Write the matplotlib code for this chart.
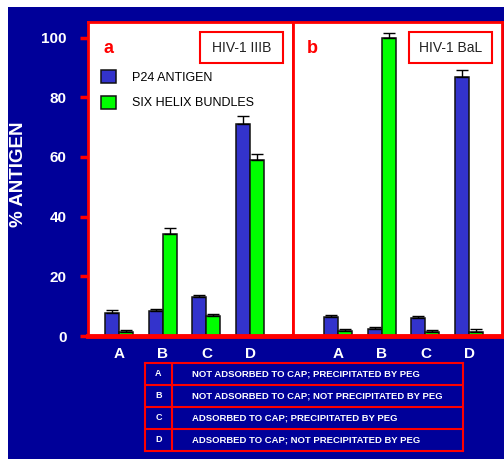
import matplotlib.pyplot as plt
from matplotlib.patches import Rectangle
import numpy as np

plt.rcParams['font.family'] = ['Liberation Sans', 'DejaVu Sans']

groups = ['A', 'B', 'C', 'D']

# panel a - HIV-1 IIIB
p24_a = [7.8, 8.4, 13.1, 70.9]
p24_a_err = [0.8, 0.6, 0.5, 2.7]
six_a = [1.5, 34.1, 6.7, 59.1]
six_a_err = [0.5, 2.0, 0.6, 1.8]

# panel b - HIV-1 BaL
p24_b = [6.4, 2.2, 5.9, 86.7]
p24_b_err = [0.5, 0.8, 0.7, 2.3]
six_b = [1.6, 99.9, 1.5, 1.5]
six_b_err = [0.6, 1.6, 0.5, 0.7]

table_keys = ['A', 'B', 'C', 'D']
table_text = ['NOT ADSORBED TO CAP; PRECIPITATED BY PEG',
              'NOT ADSORBED TO CAP; NOT PRECIPITATED BY PEG',
              'ADSORBED TO CAP; PRECIPITATED BY PEG',
              'ADSORBED TO CAP; NOT PRECIPITATED BY PEG']

BG = '#000099'
BLUE = '#3333CC'
GREEN = '#00FF00'
RED = '#FF0000'

W, H = 504, 459
fig = plt.figure(figsize=(W / 100, H / 100), dpi=100)
fig.patch.set_facecolor('white')
fig.patches.append(Rectangle((8 / W, 0), 1 - 8 / W, 1 - 7 / H,
                             transform=fig.transFigure, facecolor=BG,
                             edgecolor='none', zorder=-10))


def box(x0, y0, x1, y1):
    # pixel box (top-left origin) -> figure fraction rect
    return [x0 / W, 1 - y1 / H, (x1 - x0) / W, (y1 - y0) / H]


ax_a = fig.add_axes(box(88, 22, 293, 336))
ax_b = fig.add_axes(box(293, 22, 502, 336))

bw = 0.32
x = np.arange(len(groups))

for ax, p24, p24e, six, sixe, xl in [
        (ax_a, p24_a, p24_a_err, six_a, six_a_err, (-0.71, 3.98)),
        (ax_b, p24_b, p24_b_err, six_b, six_b_err, (-1.03, 3.75))]:
    ax.set_facecolor('white')
    ax.bar(x - bw / 2, p24, bw, color=BLUE, edgecolor='#111111', linewidth=1.1,
           yerr=[np.zeros(4), p24e], error_kw=dict(ecolor='black', elinewidth=1, capsize=4, capthick=1),
           label='P24 ANTIGEN')
    ax.bar(x + bw / 2, six, bw, color=GREEN, edgecolor='#111111', linewidth=1.1,
           yerr=[np.zeros(4), sixe], error_kw=dict(ecolor='black', elinewidth=1, capsize=4, capthick=1),
           label='SIX HELIX BUNDLES')
    ax.set_xlim(*xl)
    ax.set_ylim(0, 105.2)
    for s in ax.spines.values():
        s.set_color(RED)
        s.set_linewidth(2)
    ax.spines['bottom'].set_linewidth(3.5)
    ax.set_xticks(x)
    ax.set_xticklabels(groups, color='white', fontweight='bold', fontsize=11)
    ax.tick_params(axis='x', length=0, pad=8)

ax_a.set_yticks([0, 20, 40, 60, 80, 100])
ax_a.tick_params(axis='y', colors=RED, length=6, width=2.5, pad=9.5)
for t in ax_a.get_yticklabels():
    t.set_color('white')
    t.set_fontweight('bold')
    t.set_fontsize(11)
ax_b.set_yticks([])
ax_a.set_ylabel('% ANTIGEN', color='white', fontweight='bold', fontsize=13.5)
ax_a.yaxis.set_label_coords(-0.298, 0.515)

# panel letters
ax_a.text(0.075, 0.915, 'a', transform=ax_a.transAxes, color=RED,
          fontweight='bold', fontsize=13, va='center')
ax_b.text(0.065, 0.915, 'b', transform=ax_b.transAxes, color=RED,
          fontweight='bold', fontsize=13, va='center')

# strain boxes
for ax, label, (bx0, bx1) in [(ax_a, 'HIV-1 IIIB', (200, 283)),
                              (ax_b, 'HIV-1 BaL', (409, 492))]:
    fig.patches.append(Rectangle((bx0 / W, 1 - 63 / H), (bx1 - bx0) / W, 31 / H,
                                 transform=fig.transFigure, facecolor='white',
                                 edgecolor=RED, linewidth=1.5, zorder=5))
    fig.text((bx0 + bx1) / 2 / W, 1 - 47.5 / H, label, ha='center', va='center',
             fontsize=10, color='#222222', zorder=6)

# legend
ax_a.legend(loc='upper left', bbox_to_anchor=(0.063, 0.848), frameon=False,
            fontsize=9, handlelength=1.2, handleheight=1.25, handletextpad=1.3,
            labelspacing=0.97, borderaxespad=0, borderpad=0)

# key table
ax_t = fig.add_axes(box(145, 363, 463, 451))
ax_t.set_xlim(0, 318)
ax_t.set_ylim(4, 0)
ax_t.set_facecolor(BG)
ax_t.set_xticks([])
ax_t.set_yticks([])
for s in ax_t.spines.values():
    s.set_color(RED)
    s.set_linewidth(1.5)
ax_t.axvline(27, color=RED, linewidth=1.5)
for i in range(1, 4):
    ax_t.axhline(i, color=RED, linewidth=1.5)
for i, (k, t) in enumerate(zip(table_keys, table_text)):
    ax_t.text(13.5, i + 0.5, k, color='white', fontweight='bold', fontsize=6.5,
              ha='center', va='center')
    ax_t.text(47, i + 0.5, t, color='white', fontweight='bold', fontsize=6.8,
              ha='left', va='center')

fig.savefig('out.png', dpi=100, facecolor=fig.get_facecolor())
